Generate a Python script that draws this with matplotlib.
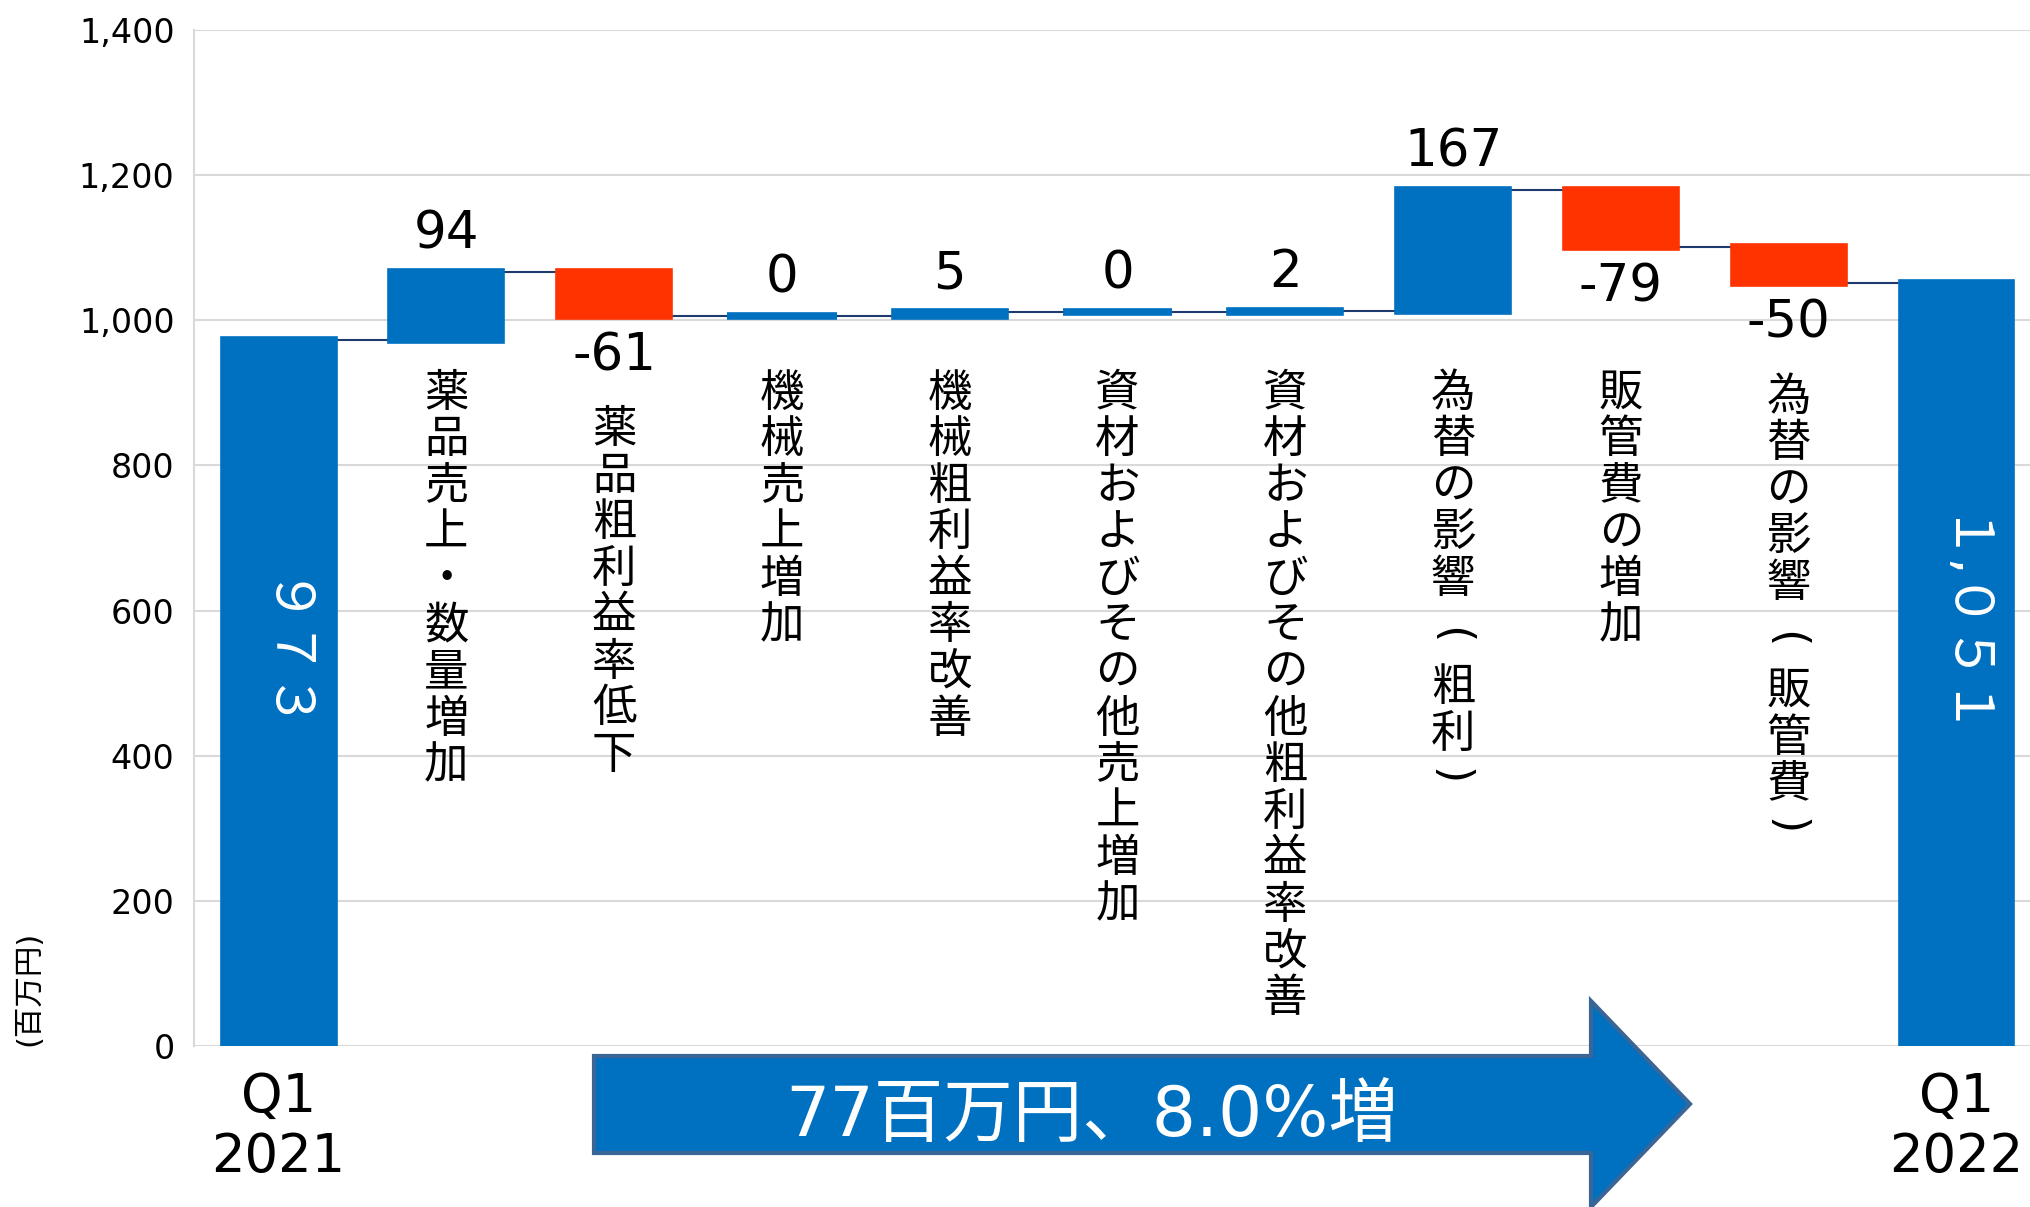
import matplotlib
matplotlib.use("Agg")
import matplotlib.pyplot as plt
from matplotlib.patches import Polygon
import numpy as np

# 英数字は DejaVu、日本語は Noto Sans CJK JP に回す
plt.rcParams['font.family'] = ['DejaVu Sans', 'Noto Sans CJK JP']

# データ（百万円）
start_label = "Q1\n2021"
end_label = "Q1\n2022"
start_value = 973
end_value = 1051
categories = ["薬品売上・数量増加", "薬品粗利益率低下", "機械売上増加", "機械粗利益率改善",
              "資材およびその他売上増加", "資材およびその他粗利益率改善",
              "為替の影響（粗利）", "販管費の増加", "為替の影響（販管費）"]
changes = [94, -61, 0, 5, 0, 2, 167, -79, -50]
yticks = [0, 200, 400, 600, 800, 1000, 1200, 1400]
summary_text = "77百万円、8.0%増"
unit_label = "(百万円)"

BLUE = "#0070C0"
RED = "#FF3300"
GRID = "#D9D9D9"
LINE = "#1F3A6E"
ARROW_EDGE = "#3A6597"

W, H = 2031, 1207
fig = plt.figure(figsize=(W / 100, H / 100), dpi=100)
ax = fig.add_axes([194 / W, 1 - 1046 / H, 1 - 194 / W, (1046 - 30) / H])

# 累積の計算
after = start_value + np.cumsum(changes)
before = np.concatenate([[start_value], after[:-1]])
bottoms = np.minimum(before, after)
heights = np.abs(changes)

n = len(changes) + 2
xs = np.arange(n)
w = 0.655
edge = 5.5  # 0 の棒も細く見えるように縁取り

# 始点・終点の棒
ax.bar([xs[0], xs[-1]], [start_value, end_value], width=w, color=BLUE,
       edgecolor=BLUE, linewidth=edge, zorder=3)
# 増減の棒
colors = [BLUE if v >= 0 else RED for v in changes]
ax.bar(xs[1:-1], heights, bottom=bottoms, width=w, color=colors,
       edgecolor=colors, linewidth=edge, zorder=3)

# 棒をつなぐ線
levels = np.concatenate([[start_value], after])
ax.hlines(levels, xs[:-1] + w / 2, xs[1:] - w / 2, color=LINE, linewidth=1.5, zorder=2)

# 増減の数値
for i, v in enumerate(changes):
    xi = xs[i + 1]
    if v >= 0:
        ax.annotate(str(v), (xi, after[i] if v > 0 else before[i]), xytext=(0, 17),
                    textcoords='offset points', ha='center', va='baseline', fontsize=37)
    else:
        ax.annotate(str(v), (xi, bottoms[i]), xytext=(0, -11),
                    textcoords='offset points', ha='center', va='top', fontsize=37)

# 縦書きの項目名（括弧は半角を回転して横向きに）
fs = 32
pitch = 33.5
for i, (label, v) in enumerate(zip(categories, changes)):
    xi = xs[i + 1]
    top = 936 if v >= 0 else min(936, bottoms[i] - 120)
    cur = 0.0
    for ch in label:
        if ch in "（）":
            frac = 0.78 if ch == "（" else 0.48
            ax.annotate("(" if ch == "（" else ")", (xi, top),
                        xytext=(-2, -(cur + frac * pitch)),
                        textcoords='offset points', ha='center', va='center',
                        rotation=-90, rotation_mode='anchor', fontsize=fs,
                        family=['DejaVu Sans'])
            cur += (1.33 if ch == "（" else 1.0) * pitch
        else:
            ax.annotate(ch, (xi, top), xytext=(0, -(cur + 0.88 * fs)),
                        textcoords='offset points', ha='center', va='baseline',
                        fontsize=fs, family=['Noto Sans CJK JP'])
            cur += pitch

# 合計の数値（全角数字を回転）
def zenkaku(val):
    return f"{val:,}".translate({ord(d): ord(d) + 0xFEE0 for d in "0123456789"})

for xi, v in [(xs[0], start_value), (xs[-1], end_value)]:
    ax.text(xi, v / 2 + 45, zenkaku(v), rotation=-90, ha='center', va='center',
            color='white', fontsize=38, zorder=4)

# 軸
ax.set_xlim(-0.504, 10.444)
ax.set_ylim(0, 1400)
ax.set_yticks(yticks)
ax.set_yticklabels([f"{t:,}" for t in yticks], fontsize=24)
ax.set_xticks([xs[0], xs[-1]])
ax.set_xticklabels([start_label, end_label], fontsize=38)
ax.tick_params(axis='y', length=0, pad=14)
ax.tick_params(axis='x', length=0, pad=18)
ax.yaxis.grid(True, color=GRID, linewidth=1.5, zorder=0)
ax.set_axisbelow(True)
for s in ['top', 'right', 'bottom']:
    ax.spines[s].set_visible(False)
ax.spines['left'].set_color(GRID)
ax.spines['left'].set_linewidth(1.5)

# 矢印
pts_px = [(594, 1056), (1591, 1056), (1591, 1001), (1690, 1104),
          (1591, 1207), (1591, 1153), (594, 1153)]
pts = [(px / W, 1 - py / H) for px, py in pts_px]
fig.patches.append(Polygon(pts, closed=True, facecolor=BLUE, edgecolor=ARROW_EDGE,
                           linewidth=3, transform=fig.transFigure, zorder=5))
fig.text(1092 / W, 1 - 1116 / H, summary_text, color='white', fontsize=50,
         ha='center', va='center', zorder=6)

fig.text(29 / W, 1 - 988 / H, unit_label, rotation=90, fontsize=22,
         ha='center', va='center')

fig.savefig("out.png", dpi=100)
plt.close(fig)
